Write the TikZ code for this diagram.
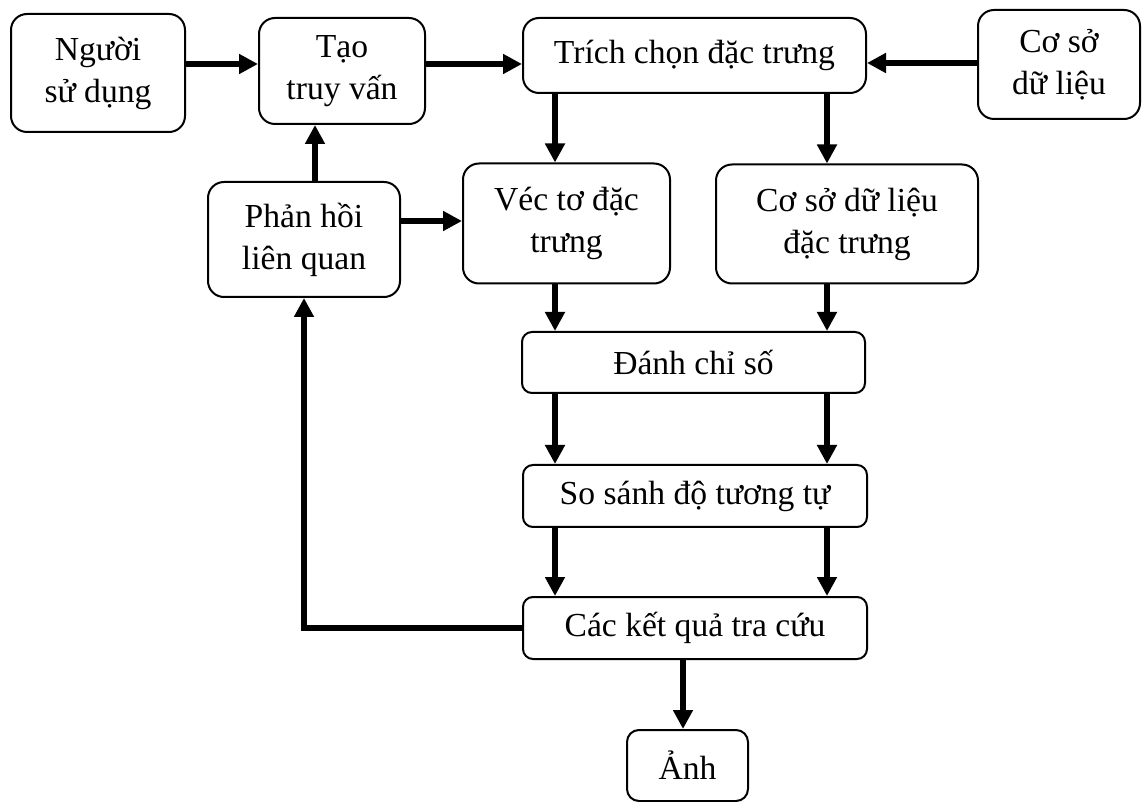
\documentclass[tikz,border=0pt]{standalone}
\usepackage{fontspec}
\setmainfont{Liberation Serif}
\usetikzlibrary{arrows.meta}

\begin{document}
\begin{tikzpicture}
  [x=0.5pt,y=-0.5pt,
   every node/.style={rectangle,rounded corners=8pt,draw=black,line width=1pt,fill=white,
     align=center,inner sep=0pt,font=\fontsize{16.8}{21}\selectfont},
   arr/.style={line width=3pt,-{Triangle[length=9.5pt,width=9.5pt]}}]
  \useasboundingbox (0,0) rectangle (1142,802);

  \node[minimum width=87pt,minimum height=59pt] (nsd) at (98,73) {Người\\sử dụng};
  \node[minimum width=83pt,minimum height=53pt] (tv) at (342,71) {Tạo\\truy vấn};
  \node[minimum width=171.5pt,minimum height=37.5pt] (tc) at (694.5,55.5) {Trích chọn đặc trưng};
  \node[minimum width=81pt,minimum height=54.5pt] (csdl) at (1059,64.5) {Cơ sở\\dữ liệu};
  \node[minimum width=96pt,minimum height=57.5pt] (phlq) at (304,239.5) {Phản hồi\\liên quan};
  \node[minimum width=103.5pt,minimum height=60pt] (vt) at (566.5,223.5) {Véc tơ đặc\\trưng};
  \node[minimum width=131pt,minimum height=59.5pt] (csdt) at (847,224) {Cơ sở dữ liệu\\đặc trưng};
  \node[minimum width=171.5pt,minimum height=30.5pt,rounded corners=5pt] (dcs) at (693.5,362.5) {Đánh chỉ số};
  \node[minimum width=172pt,minimum height=31pt,rounded corners=5pt] (ss) at (695,496) {So sánh độ tương tự};
  \node[minimum width=172pt,minimum height=31pt,rounded corners=5pt] (kq) at (695,628) {Các kết quả tra cứu};
  \node[minimum width=60.5pt,minimum height=35.5pt,rounded corners=6pt] (anh) at (687.5,765.5) {Ảnh};

  \draw[arr] (nsd.east |- 0,64) -- (tv.west |- 0,64);
  \draw[arr] (tv.east |- 0,64) -- (tc.west |- 0,64);
  \draw[arr] (csdl.west |- 0,63) -- (tc.east |- 0,63);
  \draw[arr] (phlq.north -| 315,0) -- (tv.south -| 315,0);
  \draw[arr] (phlq.east |- 0,221) -- (vt.west |- 0,221);

  \foreach \from/\to/\x in {tc/vt/555,vt/dcs/555,dcs/ss/555,ss/kq/555,
                            tc/csdt/827,csdt/dcs/827,dcs/ss/827,ss/kq/827}
    \draw[arr] (\from.south -| \x,0) -- (\to.north -| \x,0);

  \draw[arr] (kq.south -| 683,0) -- (anh.north -| 683,0);
  \draw[arr] (kq.west) -| (phlq.south);

\end{tikzpicture}
\end{document}
